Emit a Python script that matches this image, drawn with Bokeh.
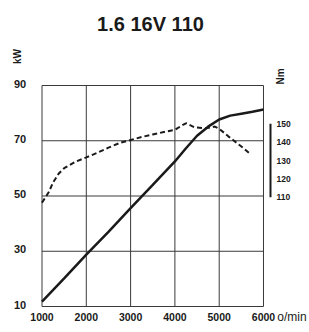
from bokeh.plotting import figure
from bokeh.models import Range1d
from bokeh.core.properties import value
from bokeh.embed import file_html
from bokeh.resources import INLINE

# ---- data ----
title_text = "1.6 16V 110"
x_ticks = [1000, 2000, 3000, 4000, 5000, 6000]
x_labels = ["1000", "2000", "3000", "4000", "5000", "6000"]
y_ticks = [10, 30, 50, 70, 90]
y_labels = ["10", "30", "50", "70", "90"]
torque_ticks = [110, 120, 130, 140, 150]
torque_labels = ["110", "120", "130", "140", "150"]
x_unit = "o/min"
y_unit = "kW"
torque_unit = "Nm"

power_rpm = [1000, 1500, 2000, 2500, 3000, 3500, 4000, 4250, 4500, 4750, 5000, 5250, 5500, 5750, 6000]
power_kw = [11.8, 20.2, 28.8, 37.0, 45.6, 54.0, 62.5, 67.3, 71.8, 75.1, 77.7, 79.1, 79.8, 80.5, 81.3]

torque_rpm = [1000, 1150, 1250, 1375, 1500, 1750, 2000, 2250, 2500, 2750, 3000, 3250, 3500, 3750,
              4000, 4150, 4250, 4450, 4700, 4900, 5000, 5200, 5400, 5550, 5700]
torque_nm = [107.0, 112.7, 118.0, 122.8, 125.8, 129.3, 131.7, 134.2, 137.0, 139.5, 141.2, 142.8,
             144.2, 145.5, 146.7, 149.0, 150.3, 148.0, 147.6, 148.5, 147.3, 143.3, 139.5, 136.7, 133.6]

FONT = "Liberation Sans"
INK = "#1a1a1a"
GRID = "#3a3a3a"

# the whole canvas is the plot frame; the chart box is placed through the ranges
p = figure(frame_width=309, frame_height=332, output_backend="svg", toolbar_location=None,
           x_range=Range1d(63.2, 7038.4), y_range=Range1d(0.59, 120.77),
           x_axis_location=None, y_axis_location=None,
           min_border_left=0, min_border_right=0, min_border_top=0, min_border_bottom=0)
p.outline_line_color = None
p.xgrid.visible = False
p.ygrid.visible = False
p.background_fill_color = "white"
p.border_fill_color = "white"
p.extra_y_ranges = {"torque": Range1d(36.27, 217.2)}

# grid box
p.segment(x0=x_ticks[0], x1=x_ticks[-1], y0=y_ticks, y1=y_ticks, line_color=GRID, line_width=1)
p.segment(x0=x_ticks, x1=x_ticks, y0=y_ticks[0], y1=y_ticks[-1], line_color=GRID, line_width=1)

# curves
p.line(torque_rpm, torque_nm, y_range_name="torque", line_color=INK, line_width=2,
       line_dash="5 3")
p.line(power_rpm, power_kw, line_color=INK, line_width=2.5)

# x tick labels
p.text(x=x_ticks, y=[6.2] * len(x_ticks), text=x_labels, text_font=value(FONT),
       text_font_style="bold", text_font_size="10.5px", text_align="center",
       text_baseline="middle", text_color=INK)
# left tick labels
p.text(x=[643] * len(y_ticks), y=y_ticks, text=y_labels, text_font=value(FONT),
       text_font_style="bold", text_font_size="11px", text_align="right",
       text_baseline="middle", y_offset=-2, text_color=INK)
# torque scale
p.segment(x0=6158, x1=6158, y0=torque_ticks[0], y1=torque_ticks[-1], y_range_name="torque",
          line_color=INK, line_width=2)
p.text(x=[6293] * len(torque_ticks), y=torque_ticks, text=torque_labels, y_range_name="torque",
       text_font=value(FONT), text_font_style="bold", text_font_size="8.5px",
       text_align="left", text_baseline="middle", text_color=INK)

# title and unit labels
p.text(x=[3449], y=[112.3], text=[title_text], text_font=value(FONT), text_font_style="bold",
       text_font_size="20px", text_align="center", text_baseline="middle", text_color=INK)
p.text(x=[447], y=[100.5], text=[y_unit], angle=1.5708, text_font=value(FONT),
       text_font_style="bold", text_font_size="10px", text_align="center",
       text_baseline="middle", text_color=INK)
p.text(x=[6384], y=[93.3], text=[torque_unit], angle=1.5708, text_font=value(FONT),
       text_font_style="bold", text_font_size="10px", text_align="center",
       text_baseline="middle", text_color=INK)
p.text(x=[6310], y=[6.2], text=[x_unit], text_font=value(FONT), text_font_size="12px",
       text_align="left", text_baseline="middle", text_color=INK)

open("out.html", "w").write(file_html(p, INLINE))
